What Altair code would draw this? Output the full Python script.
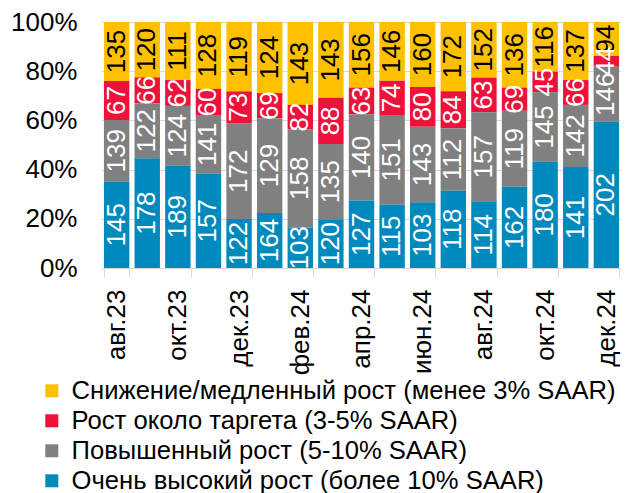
import altair as alt
import pandas as pd

months = ["авг.23", "сен.23", "окт.23", "ноя.23", "дек.23", "янв.24", "фев.24", "мар.24",
          "апр.24", "май.24", "июн.24", "июл.24", "авг.24", "сен.24", "окт.24", "ноя.24", "дек.24"]

# Numbers printed on the segments (count of components)
very_high = [145, 178, 189, 157, 122, 164, 103, 120, 127, 115, 103, 118, 114, 162, 180, 141, 202]
elevated = [139, 122, 124, 141, 172, 129, 158, 135, 140, 151, 143, 112, 157, 119, 145, 142, 146]
near_target = [67, 66, 62, 60, 73, 69, 82, 88, 63, 74, 80, 84, 63, 69, 45, 66, 44]
slow = [135, 120, 111, 128, 119, 124, 143, 143, 156, 146, 160, 172, 152, 136, 116, 137, 94]

# Segment heights (weighted share, %)
very_high_share = [35.1, 44.6, 41.6, 38.3, 19.9, 22.4, 16.5, 19.8, 27.4, 25.7, 26.7, 31.4, 27.1, 33.0, 43.2, 41.1, 59.5]
elevated_share = [25.1, 22.4, 24.3, 23.9, 38.9, 38.5, 39.9, 30.6, 35.1, 36.5, 30.7, 25.4, 36.2, 30.9, 28.2, 25.2, 22.3]
near_target_share = [15.8, 10.5, 10.5, 10.6, 13.0, 10.2, 9.9, 18.8, 10.8, 13.9, 16.2, 15.0, 14.1, 9.4, 8.4, 10.1, 4.4]
slow_share = [24.0, 22.5, 23.6, 27.2, 28.2, 28.9, 33.7, 30.8, 26.7, 23.9, 26.4, 28.2, 22.6, 26.7, 20.2, 23.6, 13.8]

categories = [
    "Снижение/медленный рост (менее 3% SAAR)",
    "Рост около таргета (3-5% SAAR)",
    "Повышенный рост (5-10% SAAR)",
    "Очень высокий рост (более 10% SAAR)",
]
colors = ["#FFC000", "#EE1139", "#808080", "#0089BD"]
text_colors = ["#000000", "#FFFFFF", "#FFFFFF", "#FFFFFF"]
series = [slow, near_target, elevated, very_high]
shares = [slow_share, near_target_share, elevated_share, very_high_share]
stack_order = [3, 2, 1, 0]

rows = []
for ci, cat in enumerate(categories):
    for mi, m in enumerate(months):
        rows.append({"month": m, "cat": cat, "value": series[ci][mi],
                     "share": shares[ci][mi],
                     "ord": stack_order[ci], "tc": text_colors[ci]})
df = pd.DataFrame(rows)

FONT = "Liberation Sans"
FS = 26

base = alt.Chart(df).transform_stack(
    stack="share", as_=["y0", "y1"], groupby=["month"],
    sort=[alt.SortField("ord", order="ascending")], offset="normalize"
).transform_calculate(mid="(datum.y0 + datum.y1) / 2")

x_enc = alt.X("month:N", sort=months, title=None,
              scale=alt.Scale(paddingInner=0.17, paddingOuter=0.096, range=[0, 521]),
              axis=alt.Axis(values=months[::2], tickBand="extent", labelAngle=270,
                            labelFontSize=FS, labelFont=FONT, labelColor="#000000",
                            tickSize=9, tickColor="#D9D9D9", domainColor="#D9D9D9",
                            labelPadding=12, grid=False))

bars = base.mark_bar().encode(
    x=x_enc,
    y=alt.Y("y0:Q", title=None,
            scale=alt.Scale(domain=[0, 1]),
            axis=alt.Axis(values=[0, 0.2, 0.4, 0.6, 0.8, 1.0], format=".0%",
                          labelFontSize=FS, labelFont=FONT, labelColor="#000000",
                          ticks=False, domain=False, gridColor="#D9D9D9",
                          labelPadding=24)),
    y2="y1:Q",
    color=alt.Color("cat:N", scale=alt.Scale(domain=categories, range=colors),
                    legend=alt.Legend(title=None, orient="none", legendX=-62, legendY=356,
                                      labelFontSize=25.6, labelFont=FONT, labelColor="#000000",
                                      symbolType="square", symbolSize=169, symbolStrokeWidth=0,
                                      symbolOpacity=1, rowPadding=3, labelOffset=7,
                                      labelLimit=800)),
)

labels = base.mark_text(angle=270, fontSize=FS, font=FONT, align="center",
                        baseline="middle").encode(
    x=alt.X("month:N", sort=months),
    y=alt.Y("mid:Q"),
    text=alt.Text("value:Q"),
    color=alt.Color("tc:N", scale=None),
)

chart = alt.layer(bars, labels).properties(
    width=520, height=246,
    padding={"left": 93, "top": 14, "right": 0, "bottom": 232},
    autosize=alt.AutoSizeParams(type="none"),
).configure_view(stroke=None)

chart.save("out.html", embed_options={"renderer": "svg", "actions": False})
